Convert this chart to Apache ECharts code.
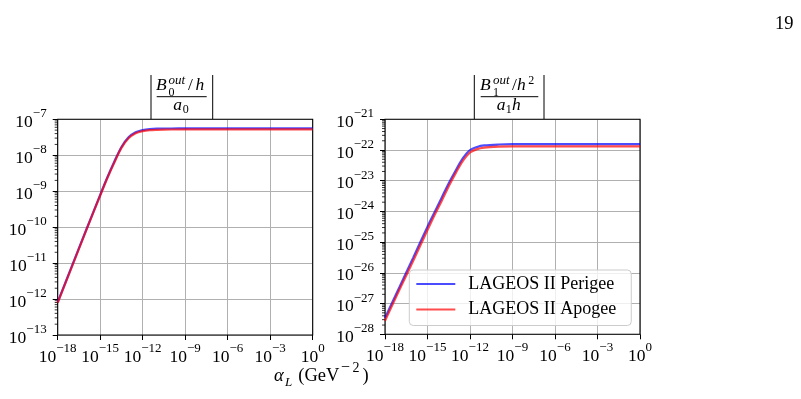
<!DOCTYPE html>
<html>
<head>
<meta charset="utf-8">
<script src="https://cdn.jsdelivr.net/npm/echarts@6/dist/echarts.min.js"></script>
<style>
html, body { margin: 0; padding: 0; background: #fff; }
#main { width: 801px; height: 399px; }
</style>
</head>
<body>
<div id="main"></div>
<script>
// alpha_L (GeV^-2), sampled per decade with half decades around the knee
const alphaL = [1e-18, 1e-17, 1e-16, 1e-15, 3.16e-15, 1e-14, 3.16e-14, 1e-13, 3.16e-13, 1e-12, 3.16e-12, 1e-11,
  1e-10, 1e-9, 1e-8, 1e-7, 1e-6, 1e-5, 1e-4, 1e-3, 1e-2, 1e-1, 1];
// left panel : |B0out/h / a0|
const b0Perigee = [8.2e-13, 8.2e-12, 8.2e-11, 7.9e-10, 2.4e-9, 6.7e-9, 1.7e-8, 3.15e-8, 4.35e-8, 5.0e-8, 5.35e-8, 5.5e-8,
  5.55e-8, 5.6e-8, 5.6e-8, 5.6e-8, 5.6e-8, 5.6e-8, 5.6e-8, 5.6e-8, 5.6e-8, 5.6e-8, 5.6e-8];
const b0Apogee = [7.9e-13, 7.9e-12, 7.9e-11, 7.6e-10, 2.3e-9, 6.3e-9, 1.6e-8, 2.95e-8, 4.1e-8, 4.7e-8, 5.0e-8, 5.1e-8,
  5.2e-8, 5.25e-8, 5.25e-8, 5.25e-8, 5.25e-8, 5.25e-8, 5.25e-8, 5.25e-8, 5.25e-8, 5.25e-8, 5.25e-8];
// right panel : |B1out/h^2 / a1 h|
const b1Perigee = [3.4e-28, 3.3e-27, 3.2e-26, 3.2e-25, 9.5e-25, 2.8e-24, 8.3e-24, 2.2e-23, 5.4e-23, 1.0e-22, 1.26e-22, 1.41e-22,
  1.51e-22, 1.55e-22, 1.55e-22, 1.55e-22, 1.55e-22, 1.55e-22, 1.55e-22, 1.55e-22, 1.55e-22, 1.55e-22, 1.55e-22];
const b1Apogee = [2.75e-28, 2.7e-27, 2.5e-26, 2.5e-25, 7.6e-25, 2.2e-24, 6.6e-24, 1.8e-23, 4.4e-23, 8.3e-23, 1.07e-22, 1.2e-22,
  1.29e-22, 1.32e-22, 1.32e-22, 1.32e-22, 1.32e-22, 1.32e-22, 1.32e-22, 1.32e-22, 1.32e-22, 1.32e-22, 1.32e-22];

const seriesNames = ['LAGEOS II Perigee', 'LAGEOS II Apogee'];
// axis ranges (exponents) and minor tick factors
const xRange = [-18, 0];
const yRangeLeft = [-13, -7];
const yRangeRight = [-28, -21];
const minorFactors = [2, 3, 4, 5, 6, 7, 8, 9];
// echarts rounds to 20 decimals, so the right panel is plotted in units of 1e-20
const rightShift = 20;

const FONT = '"Liberation Serif", "Times New Roman", serif';
const BLUE = 'rgba(0,0,255,0.7)';
const RED = 'rgba(255,0,0,0.7)';

function pairs(ys, shift) {
  const k = Math.pow(10, shift);
  return alphaL.map((a, i) => [a, ys[i] * k]);
}
function minorTicks(range, shift) {
  const out = [];
  for (let e = range[0]; e < range[1]; e++) {
    minorFactors.forEach(f => out.push([Math.pow(10, xRange[0]), f * Math.pow(10, e + shift)]));
  }
  return out;
}
function expLabel(shift) {
  return function (v) {
    const e = Math.round(Math.log10(v)) - shift;
    return '{b|10}{s|' + (e < 0 ? '\u2212' + (-e) : String(e)) + '}';
  };
}
const labelRich = {
  b: { fontFamily: FONT, fontSize: 17.5, color: '#000', lineHeight: 24, verticalAlign: 'bottom' },
  s: { fontFamily: FONT, fontSize: 13, color: '#000', lineHeight: 24, verticalAlign: 'top' }
};

function xAxisOf(gi) {
  return {
    type: 'log', logBase: 10, gridIndex: gi,
    min: Math.pow(10, xRange[0]), max: Math.pow(10, xRange[1]), interval: 3,
    axisLine: { show: false },
    axisTick: { show: true, inside: false, length: 5, lineStyle: { color: '#000', width: 1 } },
    axisLabel: { margin: 7, formatter: expLabel(0), rich: labelRich },
    splitLine: { show: true, lineStyle: { color: '#b0b0b0', width: 1 } },
    minorTick: { show: false }
  };
}
function yAxisOf(gi, range, shift) {
  return {
    type: 'log', logBase: 10, gridIndex: gi,
    min: Math.pow(10, range[0] + shift), max: Math.pow(10, range[1] + shift), interval: 1,
    axisLine: { show: false },
    axisTick: { show: true, inside: false, length: 5, lineStyle: { color: '#000', width: 1 } },
    axisLabel: { margin: 11, formatter: expLabel(shift), rich: labelRich },
    splitLine: { show: true, lineStyle: { color: '#b0b0b0', width: 1 } }
  };
}
function lineSeries(name, gi, ys, color, shift) {
  return {
    name: name, type: 'line', xAxisIndex: gi, yAxisIndex: gi,
    data: pairs(ys, shift), symbol: 'none', smooth: 0.3,
    lineStyle: { color: color, width: 2.2 }, itemStyle: { color: color },
    emphasis: { disabled: true }, animation: false
  };
}
function minorSeries(gi, range, shift) {
  return {
    type: 'custom', xAxisIndex: gi, yAxisIndex: gi, clip: false, silent: true,
    data: minorTicks(range, shift),
    renderItem: function (params, api) {
      const p = api.coord([api.value(0), api.value(1)]);
      return { type: 'line', shape: { x1: p[0] - 3, y1: p[1], x2: p[0], y2: p[1] },
        style: { stroke: '#000', lineWidth: 0.8 } };
    }
  };
}

// math text pieces placed by baseline (Liberation Serif middle ~0.3375em above baseline)
function tx(text, x, base, size, italic) {
  return {
    type: 'text', x: x, y: base - 0.3375 * size, silent: true,
    style: { text: text, font: (italic ? 'italic ' : '') + size + 'px ' + FONT, fill: '#000',
      align: 'left', verticalAlign: 'middle' }
  };
}
function ln(x1, y1, x2, y2, w) {
  return { type: 'line', silent: true, shape: { x1: x1, y1: y1, x2: x2, y2: y2 },
    style: { stroke: '#000', lineWidth: w || 1 } };
}

const graphics = [
  // left panel title |B_0^out/h / a_0|
  ln(151, 75, 151, 119.3), ln(212.7, 75, 212.7, 119.3),
  tx('B', 156, 91.7, 17.5, true), tx('out', 168.5, 85, 13, true), tx('0', 168.5, 96.5, 12, false),
  tx('/', 188, 91.7, 17.5, false), tx('h', 195.5, 91.7, 17.5, true),
  ln(156.7, 96.7, 206.7, 96.7, 1),
  tx('a', 173.3, 111.7, 17.5, true), tx('0', 182.7, 114, 12, false),
  // right panel title |B_1^out/h^2 / a_1 h|
  ln(474.3, 75, 474.3, 119.3), ln(544, 75, 544, 119.3),
  tx('B', 480, 91.7, 17.5, true), tx('out', 493, 85, 13, true), tx('1', 493, 96.5, 12, false),
  tx('/', 512, 91.7, 17.5, false), tx('h', 517, 91.7, 17.5, true), tx('2', 528.3, 84.5, 12, false),
  ln(480.7, 96.7, 538.3, 96.7, 1),
  tx('a', 496.7, 111.7, 17.5, true), tx('1', 505.7, 114, 12, false), tx('h', 512, 111.7, 17.5, true),
  // x label
  tx('\u03b1', 274, 382.7, 18.5, true), tx('L', 285, 386.7, 13, true),
  tx('(GeV', 298.3, 382.7, 18.5, false), tx('\u2212', 341, 373, 16, false), tx('2', 352.5, 373, 14, false),
  tx(')', 362.5, 382.7, 18.5, false),
  // page number
  tx('19', 775, 30, 18.5, false)
];

const chart = echarts.init(document.getElementById('main'), null, { renderer: 'canvas' });
chart.setOption({
  animation: false,
  backgroundColor: '#fff',
  grid: [
    { left: 57.7, top: 119.3, width: 255, height: 215.7, show: true, borderColor: '#000', borderWidth: 1.1, backgroundColor: 'transparent', z: 3 },
    { left: 385, top: 119.3, width: 255, height: 215, show: true, borderColor: '#000', borderWidth: 1.1, backgroundColor: 'transparent', z: 3 }
  ],
  xAxis: [xAxisOf(0), xAxisOf(1)],
  yAxis: [yAxisOf(0, yRangeLeft, 0), yAxisOf(1, yRangeRight, rightShift)],
  legend: {
    data: seriesNames, orient: 'vertical', left: 409.3, top: 270,
    backgroundColor: 'rgba(255,255,255,0.8)', borderColor: '#cccccc', borderWidth: 1, borderRadius: 4,
    padding: [5, 15, 7, 7], itemGap: 7.5, itemWidth: 39, itemHeight: 2.2, icon: 'rect',
    textStyle: { fontFamily: FONT, fontSize: 18, color: '#000', padding: [0, 0, 0, 8] },
    selectedMode: false
  },
  series: [
    lineSeries(seriesNames[0], 0, b0Perigee, BLUE, 0),
    lineSeries(seriesNames[1], 0, b0Apogee, RED, 0),
    lineSeries(seriesNames[0], 1, b1Perigee, BLUE, rightShift),
    lineSeries(seriesNames[1], 1, b1Apogee, RED, rightShift),
    minorSeries(0, yRangeLeft, 0),
    minorSeries(1, yRangeRight, rightShift)
  ],
  graphic: graphics
});
</script>
</body>
</html>
